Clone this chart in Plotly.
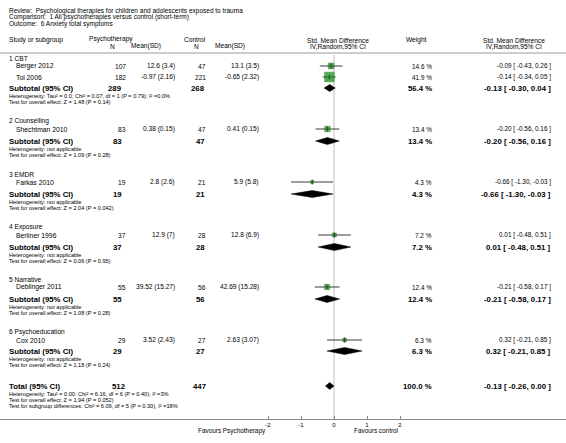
import plotly.graph_objects as go
import math

# ---------------- data ----------------
title_lines = [
    "Review:  Psychological therapies for children and adolescents exposed to trauma",
    "Comparison:  1 All psychotherapies versus control (short-term)",
    "Outcome:  6 Anxiety total symptoms",
]
groups = ["1 CBT", "2 Counselling", "3 EMDR", "4 Exposure", "5 Narrative", "6 Psychoeducation"]
study_group = [0, 0, 1, 2, 3, 4, 5]
study_names = ["Berger 2012", "Tol 2006", "Shechtman 2010", "Farkas 2010", "Berliner 1996", "Deblinger 2011", "Cox 2010"]
psy_n = [107, 182, 83, 19, 37, 55, 29]
psy_mean_sd = ["12.6 (3.4)", "-0.97 (2.16)", "0.38 (0.15)", "2.8 (2.6)", "12.9 (7)", "39.52 (15.27)", "3.52 (2.43)"]
ctl_n = [47, 221, 47, 21, 28, 56, 27]
ctl_mean_sd = ["13.1 (3.5)", "-0.65 (2.32)", "0.41 (0.15)", "5.9 (5.8)", "12.8 (6.9)", "42.69 (15.28)", "2.63 (3.07)"]
study_weight = [14.6, 41.9, 13.4, 4.3, 7.2, 12.4, 6.3]
study_smd = [-0.09, -0.14, -0.20, -0.66, 0.01, -0.21, 0.32]
study_lo = [-0.43, -0.34, -0.56, -1.30, -0.48, -0.58, -0.21]
study_hi = [0.26, 0.05, 0.16, -0.03, 0.51, 0.17, 0.85]

sub_psy_n = [289, 83, 19, 37, 55, 29]
sub_ctl_n = [268, 47, 21, 28, 56, 27]
sub_weight = [56.4, 13.4, 4.3, 7.2, 12.4, 6.3]
sub_smd = [-0.13, -0.20, -0.66, 0.01, -0.21, 0.32]
sub_lo = [-0.30, -0.56, -1.30, -0.48, -0.58, -0.21]
sub_hi = [0.04, 0.16, -0.03, 0.51, 0.17, 0.85]
sub_het = [
    "Heterogeneity: Tau² = 0.0; Chi² = 0.07, df = 1 (P = 0.79); I² =0.0%",
    "Heterogeneity: not applicable",
    "Heterogeneity: not applicable",
    "Heterogeneity: not applicable",
    "Heterogeneity: not applicable",
    "Heterogeneity: not applicable",
]
sub_test = [
    "Test for overall effect: Z = 1.48 (P = 0.14)",
    "Test for overall effect: Z = 1.09 (P = 0.28)",
    "Test for overall effect: Z = 2.04 (P = 0.042)",
    "Test for overall effect: Z = 0.06 (P = 0.95)",
    "Test for overall effect: Z = 1.08 (P = 0.28)",
    "Test for overall effect: Z = 1.18 (P = 0.24)",
]
total_psy_n = 512
total_ctl_n = 447
total_weight = 100.0
total_smd = -0.13
total_lo = -0.26
total_hi = 0.00
total_notes = [
    "Heterogeneity: Tau² = 0.00; Chi² = 6.16, df = 6 (P = 0.40); I² =3%",
    "Test for overall effect: Z = 1.94 (P = 0.052)",
    "Test for subgroup differences: Chi² = 6.09, df = 5 (P = 0.30), I² =18%",
]
tick_vals = [-2, -1, 0, 1, 2]
tick_text = ["-2", "-1", "0", "1", "2"]
favours_left = "Favours Psychotherapy"
favours_right = "Favours control"

# ---------------- layout geometry (pixels) ----------------
W, H = 566, 443
AXIS_Y = 419
ZERO_PX = 334
UNIT_PX = 33.0
FONT = "Liberation Sans, Arial, Helvetica, sans-serif"

group_header_y = [58, 121, 174, 227, 279, 332]
study_y = [66, 77, 129, 182, 235, 287, 340]
sub_y = [88, 141, 194, 247, 299, 351]
total_y = 386

ann = []


def txt(x, y, s, size=6.5, bold=False, anchor="left"):
    ann.append(dict(
        x=x / W, y=y, xref="paper", yref="y",
        text=("<b>%s</b>" % s) if bold else s,
        showarrow=False, xanchor=anchor, yanchor="middle",
        font=dict(size=size, family=FONT, color="#000"),
        borderpad=0,
    ))


def ci_text(m, lo, hi):
    return "%.2f [ %.2f, %.2f ]" % (m, lo, hi)


# titles
for i, t in enumerate(title_lines):
    txt(8, 10.5 + i * 6.6, t, size=6.5)

# headers
txt(8, 40, "Study or subgroup", 6.6)
txt(88, 39, "Psychotherapy", 6.6)
txt(112, 46, "N", 6.6, anchor="center")
txt(146, 46, "Mean(SD)", 6.6, anchor="center")
txt(183, 39, "Control", 6.6)
txt(196, 46, "N", 6.6, anchor="center")
txt(230, 46, "Mean(SD)", 6.6, anchor="center")
txt(338, 40, "Std. Mean Difference", 6.6, anchor="center")
txt(338, 46, "IV,Random,95% CI", 6.6, anchor="center")
txt(416, 40, "Weight", 6.6, anchor="center")
txt(514, 40, "Std. Mean Difference", 6.6, anchor="center")
txt(514, 46, "IV,Random,95% CI", 6.6, anchor="center")

# group headers
for g, y in zip(groups, group_header_y):
    txt(8, y, g, 6.6)

# studies
for i, name in enumerate(study_names):
    y = study_y[i]
    txt(15, y, name, 6.8)
    txt(127, y, str(psy_n[i]), 6.6, anchor="right")
    txt(176, y, psy_mean_sd[i], 6.6, anchor="right")
    txt(207, y, str(ctl_n[i]), 6.6, anchor="right")
    txt(260, y, ctl_mean_sd[i], 6.6, anchor="right")
    txt(433, y, "%.1f %%" % study_weight[i], 6.4, anchor="right")
    txt(552, y, ci_text(study_smd[i], study_lo[i], study_hi[i]), 6.4, anchor="right")

# subtotals
for j in range(len(groups)):
    y = sub_y[j]
    txt(8, y, "Subtotal (95% CI)", 7.8, bold=True)
    txt(123, y, str(sub_psy_n[j]), 7.8, bold=True, anchor="right")
    txt(206, y, str(sub_ctl_n[j]), 7.8, bold=True, anchor="right")
    txt(433, y, "%.1f %%" % sub_weight[j], 7.8, bold=True, anchor="right")
    txt(552, y, ci_text(sub_smd[j], sub_lo[j], sub_hi[j]), 7.8, bold=True, anchor="right")
    txt(8, y + 7.5, sub_het[j], 5.6)
    txt(8, y + 13.5, sub_test[j], 5.6)

# total
txt(8, total_y, "Total (95% CI)", 7.8, bold=True)
txt(127, total_y, str(total_psy_n), 7.8, bold=True, anchor="right")
txt(207, total_y, str(total_ctl_n), 7.8, bold=True, anchor="right")
txt(433, total_y, "%.1f %%" % total_weight, 7.8, bold=True, anchor="right")
txt(552, total_y, ci_text(total_smd, total_lo, total_hi), 7.8, bold=True, anchor="right")
for k, s in enumerate(total_notes):
    txt(8, total_y + 7.5 + k * 6, s, 5.6)

# favours labels (anchored to axis scale)
for xv, s in [(-2, favours_left), (2, favours_right)]:
    ann.append(dict(x=xv, y=1 - 431 / AXIS_Y, xref="x", yref="paper", text=s,
                    showarrow=False, xanchor="right", yanchor="middle",
                    font=dict(size=6.4, family=FONT, color="#000")))

fig = go.Figure()

# CI lines
cx, cy = [], []
for i in range(len(study_names)):
    cx += [study_lo[i], study_hi[i], None]
    cy += [study_y[i], study_y[i], None]
fig.add_trace(go.Scatter(x=cx, y=cy, mode="lines", line=dict(color="#3a3a3a", width=1),
                         hoverinfo="skip", showlegend=False))

# squares sized by weight
fig.add_trace(go.Scatter(
    x=study_smd, y=study_y, mode="markers",
    marker=dict(symbol="square", color="#0b8a0b",
                size=[1.5 * math.sqrt(w) for w in study_weight],
                line=dict(color="#006400", width=0.5)),
    hoverinfo="skip", showlegend=False))

# point-estimate ticks
tx, ty = [], []
for i in range(len(study_names)):
    tx += [study_smd[i], study_smd[i], None]
    ty += [study_y[i] - 2.5, study_y[i] + 2.5, None]
fig.add_trace(go.Scatter(x=tx, y=ty, mode="lines", line=dict(color="#3a3a3a", width=1),
                         hoverinfo="skip", showlegend=False))

# diamonds
HD = 3.5
for m, lo, hi, y in list(zip(sub_smd, sub_lo, sub_hi, sub_y)) + [(total_smd, total_lo, total_hi, total_y)]:
    fig.add_trace(go.Scatter(
        x=[lo, m, hi, m, lo], y=[y, y - HD, y, y + HD, y], mode="lines",
        fill="toself", fillcolor="#000", line=dict(color="#000", width=0.5),
        hoverinfo="skip", showlegend=False))

shapes = [
    dict(type="line", xref="paper", yref="y", x0=0, x1=1, y0=53, y1=53,
         line=dict(color="#9a9a9a", width=1)),
    dict(type="line", xref="x", yref="y", x0=0, x1=0, y0=55, y1=AXIS_Y,
         line=dict(color="#c0c0c0", width=1), layer="below"),
]

fig.update_layout(
    width=W, height=H,
    margin=dict(l=0, r=0, t=0, b=H - AXIS_Y, pad=0, autoexpand=False),
    paper_bgcolor="white", plot_bgcolor="white",
    showlegend=False,
    annotations=ann, shapes=shapes,
    xaxis=dict(range=[-ZERO_PX / UNIT_PX, (W - ZERO_PX) / UNIT_PX],
               showgrid=False, zeroline=False, showline=True,
               linecolor="#8a8a8a", linewidth=1,
               ticks="inside", ticklen=3, tickcolor="#8a8a8a",
               tickvals=tick_vals, ticktext=tick_text,
               tickfont=dict(size=6, family=FONT, color="#000"),
               fixedrange=True),
    yaxis=dict(range=[AXIS_Y, 0], visible=False, fixedrange=True),
)

fig.write_html("out.html", config={"displayModeBar": False},
               post_script="document.body.style.margin='0';document.body.style.padding='0';")
